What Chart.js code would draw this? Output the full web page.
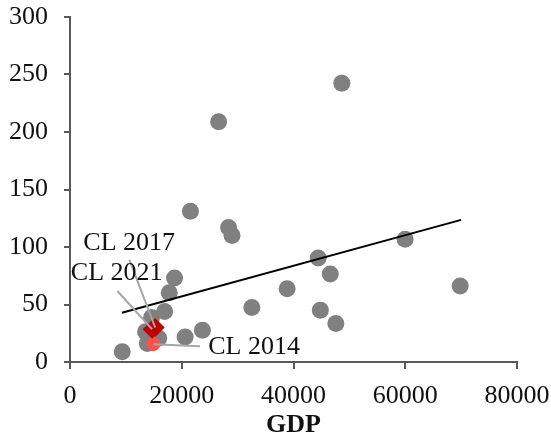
<html>
<script src="https://cdn.jsdelivr.net/npm/chart.js@4.4.0/dist/chart.umd.min.js"></script>
<style>
  body { margin: 0; background: white; }
  #wrap { width: 551px; height: 441px; }
</style>
<body>
  <div id="wrap"><canvas id="gdpChart" width="551" height="441"></canvas></div>
</body>
<script>
  // other countries
  var gdpX = [9350, 20600, 23700, 21550, 26600, 28380, 29000, 48650, 32550, 38860,
              44420, 44800, 46580, 47580, 59970, 69830, 18710, 17760, 16930, 14600,
              13520, 13840, 15870, 14900];
  var valueY = [9, 21.8, 27.6, 131, 209, 117, 110, 242.5, 47.4, 63.7,
                90.5, 45.1, 76.5, 33.4, 106.7, 66, 73, 60.2, 43.9, 38.7,
                26.4, 16, 20.7, 19];

  // Chile
  var clNames = ["CL 2014", "CL 2017", "CL 2021"];
  var clX = [14920, 15250, 14700];
  var clY = [15.5, 30, 28.5];

  // trend line ends
  var trendX = [9300, 70000];
  var trendY = [42.8, 123.6];

  // label anchors (text centre) and leader line start points
  var labelX = [32950, 10600, 8360];
  var labelY = [13.2, 103.7, 77.6];
  var leaderX = [23280, 10620, 8470];
  var leaderY = [13.7, 89, 61.7];

  var xTicks = [0, 20000, 40000, 60000, 80000];
  var yTicks = [0, 50, 100, 150, 200, 250, 300];

  function pts(xs, ys) {
    return xs.map(function (x, i) { return { x: x, y: ys[i] }; });
  }

  var leaders = clNames.map(function (name, i) {
    return {
      label: name + ' leader',
      data: [{ x: leaderX[i], y: leaderY[i] }, { x: clX[i], y: clY[i] }],
      showLine: true,
      borderColor: '#a6a6a6',
      borderWidth: 2,
      pointRadius: 0,
      order: 0
    };
  });

  var labelPlugin = {
    id: 'clLabels',
    afterDatasetsDraw: function (chart) {
      var ctx = chart.ctx;
      var xs = chart.scales.x, ys = chart.scales.y;
      ctx.save();
      ctx.font = '26px "Liberation Serif"';
      ctx.fillStyle = '#111';
      ctx.textAlign = 'center';
      ctx.textBaseline = 'middle';
      clNames.forEach(function (name, i) {
        ctx.fillText(name, xs.getPixelForValue(labelX[i]), ys.getPixelForValue(labelY[i]));
      });
      ctx.restore();
    }
  };

  var axisFont = { family: 'Liberation Serif', size: 26 };

  new Chart(document.getElementById('gdpChart'), {
    type: 'scatter',
    data: {
      datasets: leaders.concat([
        {
          label: 'CL 2017/2021',
          data: pts(clX.slice(1), clY.slice(1)),
          pointStyle: 'rectRot',
          pointRadius: 9.5,
          backgroundColor: '#c00000',
          borderWidth: 0,
          order: 1
        },
        {
          label: 'CL 2014',
          data: pts(clX.slice(0, 1), clY.slice(0, 1)),
          pointRadius: 7,
          backgroundColor: '#ff5050',
          borderWidth: 0,
          order: 2
        },
        {
          label: 'Trend',
          data: pts(trendX, trendY),
          showLine: true,
          borderColor: '#000',
          borderWidth: 2,
          pointRadius: 0,
          order: 3
        },
        {
          label: 'Countries',
          data: pts(gdpX, valueY),
          pointRadius: 8.5,
          backgroundColor: '#808080',
          borderWidth: 0,
          order: 4
        }
      ])
    },
    options: {
      responsive: false,
      animation: false,
      layout: { padding: { left: 0, right: 34, top: 17, bottom: 0 } },
      plugins: { legend: { display: false }, tooltip: { enabled: false } },
      scales: {
        x: {
          type: 'linear',
          min: 0, max: 80000,
          afterBuildTicks: function (s) { s.ticks = xTicks.map(function (v) { return { value: v }; }); },
          afterFit: function (s) { s.height = 79; s.paddingLeft = 0; s.paddingRight = 0; },
          grid: { drawOnChartArea: false, drawTicks: true, tickLength: 7, color: '#595959', lineWidth: 2 },
          border: { color: '#595959', width: 2 },
          ticks: { font: axisFont, color: '#111', padding: 12, maxRotation: 0,
                   callback: function (v) { return String(v); } },
          title: { display: true, text: 'GDP', font: { family: 'Liberation Serif', size: 26, weight: 'bold' }, color: '#111', padding: { top: 0, bottom: 0 } }
        },
        y: {
          type: 'linear',
          min: 0, max: 300,
          afterBuildTicks: function (s) { s.ticks = yTicks.map(function (v) { return { value: v }; }); },
          afterFit: function (s) { s.width = 70; s.paddingTop = 0; s.paddingBottom = 0; },
          grid: { drawOnChartArea: false, drawTicks: true, tickLength: 6, color: '#595959', lineWidth: 2 },
          border: { color: '#595959', width: 2 },
          ticks: { font: axisFont, color: '#111', padding: 16,
                   callback: function (v) { return String(v); } }
        }
      }
    },
    plugins: [labelPlugin]
  });
</script>
</html>
